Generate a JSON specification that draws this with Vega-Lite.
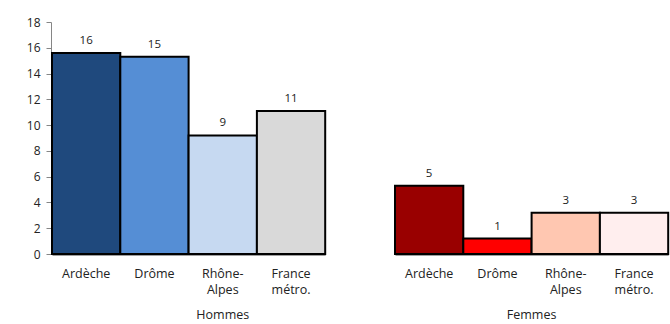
{
  "$schema": "https://vega.github.io/schema/vega-lite/v6.json",
  "background": "white",
  "padding": {"left": 26, "top": 16, "right": 0, "bottom": 0},
  "data": {
    "values": [
      {"sexe": "Hommes", "zone": "Ardèche", "cle": "H Ardèche", "taux": 15.6},
      {"sexe": "Hommes", "zone": "Drôme", "cle": "H Drôme", "taux": 15.3},
      {"sexe": "Hommes", "zone": "Rhône-Alpes", "cle": "H Rhône-Alpes", "taux": 9.2},
      {"sexe": "Hommes", "zone": "France métro.", "cle": "H France métro.", "taux": 11.1},
      {"sexe": "Hommes", "zone": " ", "cle": "H vide", "taux": null},
      {"sexe": "Femmes", "zone": "Ardèche", "cle": "F Ardèche", "taux": 5.3},
      {"sexe": "Femmes", "zone": "Drôme", "cle": "F Drôme", "taux": 1.2},
      {"sexe": "Femmes", "zone": "Rhône-Alpes", "cle": "F Rhône-Alpes", "taux": 3.2},
      {"sexe": "Femmes", "zone": "France métro.", "cle": "F France métro.", "taux": 3.2}
    ]
  },
  "facet": {
    "column": {
      "field": "sexe",
      "type": "nominal",
      "sort": ["Hommes", "Femmes"],
      "header": {
        "title": null,
        "labelOrient": "bottom",
        "labelFont": "Open Sans",
        "labelFontSize": 12.5,
        "labelColor": "#222222",
        "labelPadding": 13
      }
    }
  },
  "spacing": 0,
  "resolve": {"scale": {"x": "independent"}},
  "spec": {
    "width": {"step": 68.3},
    "height": 232,
    "encoding": {
      "x": {
        "field": "zone",
        "type": "nominal",
        "sort": null,
        "scale": {"paddingInner": 0, "paddingOuter": 0},
        "axis": {
          "title": null,
          "labelAngle": 0,
          "ticks": false,
          "domainColor": "#404040",
          "domainWidth": 2,
          "labelPadding": 13,
          "labelLineHeight": 16,
          "labelFontSize": 12.5,
          "labelExpr": "datum.value == 'Rhône-Alpes' ? ['Rhône-', 'Alpes'] : datum.value == 'France métro.' ? ['France', 'métro.'] : datum.value"
        }
      },
      "y": {
        "field": "taux",
        "type": "quantitative",
        "scale": {"domain": [0, 18]},
        "axis": {
          "title": null,
          "grid": false,
          "values": [0, 2, 4, 6, 8, 10, 12, 14, 16, 18],
          "domainColor": "#868686",
          "tickColor": "#868686",
          "tickSize": 5,
          "labelPadding": 6,
          "labelFontSize": 12
        }
      }
    },
    "layer": [
      {
        "mark": {"type": "bar", "stroke": "#000000", "strokeWidth": 2, "invalid": "break-paths-show-domains"},
        "encoding": {
          "color": {
            "field": "cle",
            "type": "nominal",
            "legend": null,
            "scale": {
              "domain": ["H Ardèche", "H Drôme", "H Rhône-Alpes", "H France métro.", "H vide", "F Ardèche", "F Drôme", "F Rhône-Alpes", "F France métro."],
              "range": ["#1F497D", "#558ED5", "#C6D9F1", "#D9D9D9", "#FFFFFF", "#990000", "#FF0000", "#FFC7B1", "#FFEEEE"]
            }
          }
        }
      },
      {
        "mark": {"type": "text", "dy": -12, "font": "Open Sans", "fontSize": 11.5, "color": "#222222"},
        "encoding": {
          "text": {"field": "taux", "type": "quantitative", "format": ".0f"}
        }
      }
    ]
  },
  "config": {
    "view": {"stroke": null},
    "axis": {
      "labelFont": "Open Sans",
      "labelColor": "#222222"
    }
  }
}
